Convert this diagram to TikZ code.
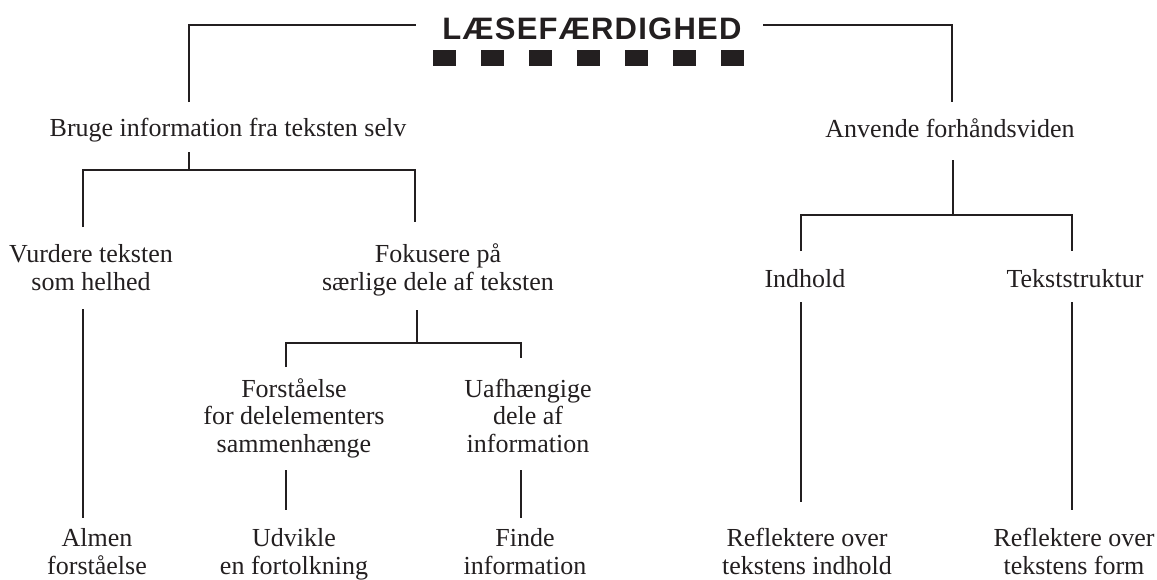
\documentclass[tikz,border=0pt]{standalone}
\usepackage{fontspec}
\setmainfont{Liberation Serif}
\newfontfamily\titlefont[LetterSpace=4]{Liberation Sans}
\definecolor{ink}{HTML}{231F20}
\begin{document}
\begin{tikzpicture}[x=1pt,y=-1pt,
  lbl/.style={inner sep=0pt,anchor=base,align=center,text=ink,
    font=\fontsize{26}{27.5}\selectfont},
  conn/.style={draw=ink,line width=2pt},
  sq/.style={fill=ink,draw=none}]
\useasboundingbox (0,0) rectangle (1157,579);
% title
\node[inner sep=0pt,anchor=base,text=ink,font=\titlefont\bfseries\fontsize{31}{33}\selectfont] (title) at (592,39) {LÆSEFÆRDIGHED};
\foreach \k in {0,...,6}{
  \fill[ink] ({433+48*\k},50) rectangle ({456+48*\k},66);
}
% text nodes (base anchor = baseline of last line)
\node[lbl] (bruge) at (228,136) {Bruge information fra teksten selv};
\node[lbl] (anvende) at (950,137) {Anvende forhåndsviden};
\node[lbl] (vurdere) at (91,290) {Vurdere teksten\\som helhed};
\node[lbl] (fokusere) at (438,290) {Fokusere på\\særlige dele af teksten};
\node[lbl] (indhold) at (805,287) {Indhold};
\node[lbl] (tekststruktur) at (1075,287) {Tekststruktur};
\node[lbl] (forst) at (294,452) {Forståelse\\for delelementers\\sammenhænge};
\node[lbl] (uafh) at (528,452) {Uafhængige\\dele af\\information};
\node[lbl] (almen) at (97,574) {Almen\\forståelse};
\node[lbl] (udvikle) at (294,574) {Udvikle\\en fortolkning};
\node[lbl] (finde) at (525,574) {Finde\\information};
\node[lbl] (refl1) at (807,574) {Reflektere over\\tekstens indhold};
\node[lbl] (refl2) at (1074,574) {Reflektere over\\tekstens form};
% connector endpoints
\coordinate (tL) at (416,25);  \coordinate (tR) at (763,25);
\coordinate (bTop) at (189,102); \coordinate (aTop) at (952,102);
\coordinate (bBot) at (189,152); \coordinate (bJ) at (189,170);
\coordinate (vTop) at (83,227);  \coordinate (fTop) at (415,222);
\coordinate (vBot) at (83,309);  \coordinate (almTop) at (83,518);
\coordinate (fBot) at (417,310); \coordinate (fJ) at (417,343);
\coordinate (foTop) at (286,367); \coordinate (uTop) at (521,358);
\coordinate (foBot) at (286,470); \coordinate (udTop) at (286,510);
\coordinate (uBot) at (521,470);  \coordinate (fiTop) at (521,518);
\coordinate (aBot) at (953,160);  \coordinate (aJ) at (953,215);
\coordinate (iTop) at (801,251);  \coordinate (tsTop) at (1072,251);
\coordinate (iBot) at (801,302);  \coordinate (r1Top) at (801,502);
\coordinate (tsBot) at (1072,302); \coordinate (r2Top) at (1072,510);
% connectors
\draw[conn] (bTop) |- (tL);
\draw[conn] (tR) -| (aTop);
\draw[conn] (bBot) -- (bJ);
\draw[conn] (vTop) |- (bJ) -| (fTop);
\draw[conn] (vBot) -- (almTop);
\draw[conn] (fBot) -- (fJ);
\draw[conn] (foTop) |- (fJ) -| (uTop);
\draw[conn] (foBot) -- (udTop);
\draw[conn] (uBot) -- (fiTop);
\draw[conn] (aBot) -- (aJ);
\draw[conn] (iTop) |- (aJ) -| (tsTop);
\draw[conn] (iBot) -- (r1Top);
\draw[conn] (tsBot) -- (r2Top);
\end{tikzpicture}
\end{document}
